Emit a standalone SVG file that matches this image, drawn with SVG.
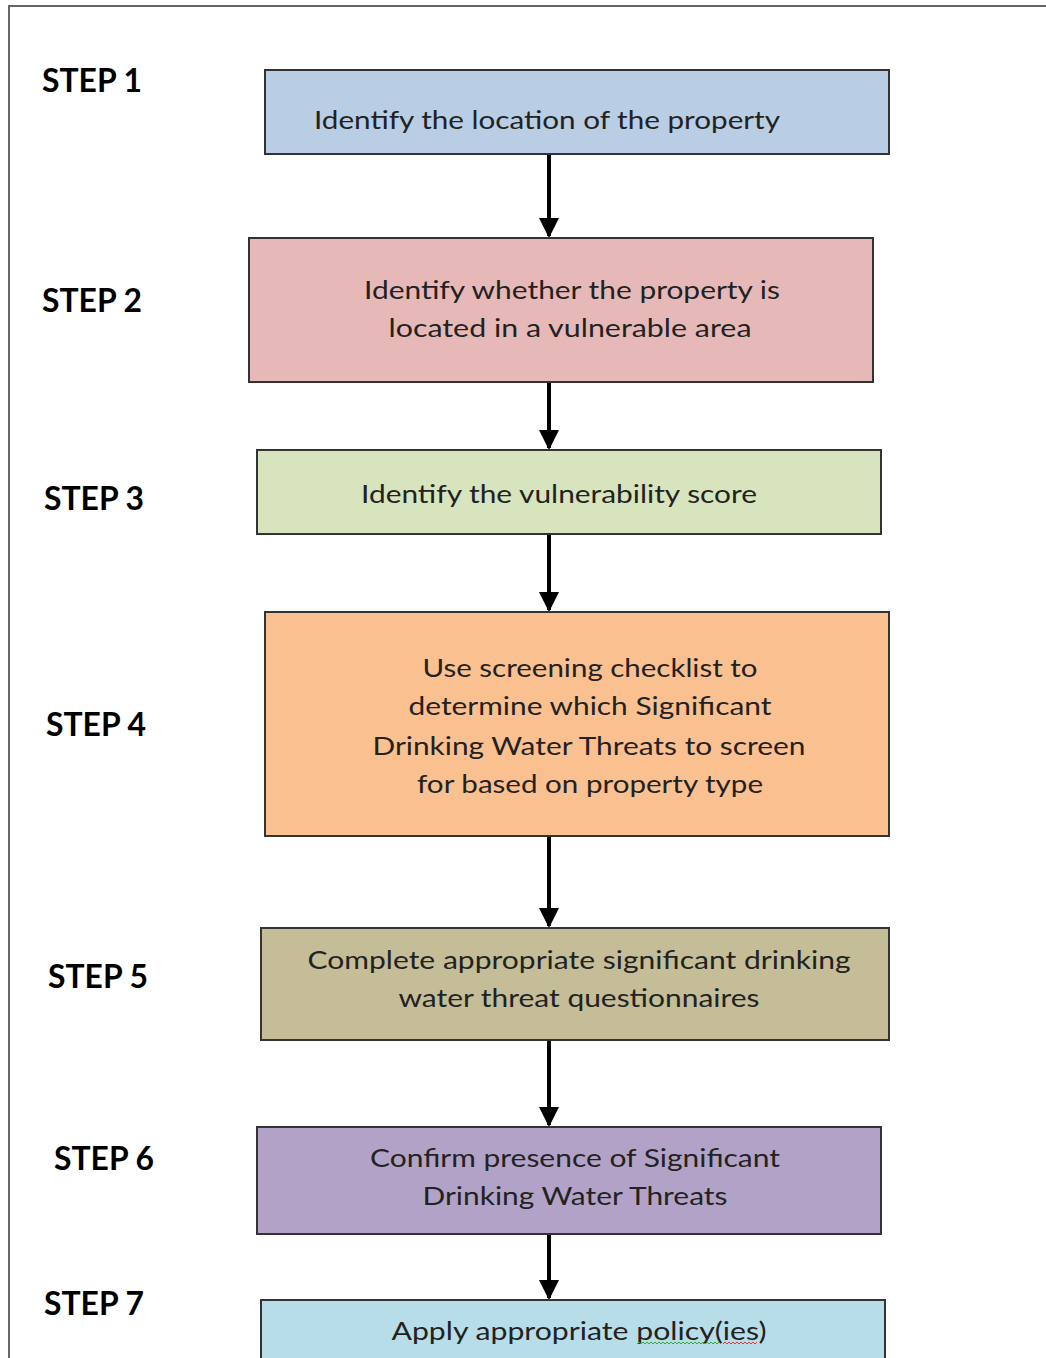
<svg xmlns="http://www.w3.org/2000/svg" width="1046" height="1358" viewBox="0 0 1046 1358">
<defs>
<marker id="ah" markerWidth="5" markerHeight="5" refX="4.5" refY="2.5" orient="auto" markerUnits="strokeWidth">
<path d="M0,0 L5,2.5 L0,5 Z" fill="#000"/>
</marker>
<style>
.box{stroke:#333;stroke-width:2}
.t{font-family:Lato,"Open Sans","Liberation Sans",sans-serif;font-size:25px;fill:#222;text-anchor:middle}
.s{font-family:Lato,"Open Sans","Liberation Sans",sans-serif;font-size:33px;font-weight:bold;fill:#000}
.c{stroke:#000;stroke-width:4;fill:none}
</style>
</defs>
<rect width="1046" height="1358" fill="#fff"/>
<path d="M9,1360 L9,6 L1050,6" fill="none" stroke="#666" stroke-width="2"/>
<g id="labels">
<text class="s" x="42" y="92" textLength="100" lengthAdjust="spacingAndGlyphs">STEP 1</text>
<text class="s" x="42" y="312" textLength="100" lengthAdjust="spacingAndGlyphs">STEP 2</text>
<text class="s" x="44" y="510" textLength="100" lengthAdjust="spacingAndGlyphs">STEP 3</text>
<text class="s" x="46" y="736" textLength="100" lengthAdjust="spacingAndGlyphs">STEP 4</text>
<text class="s" x="48" y="988" textLength="100" lengthAdjust="spacingAndGlyphs">STEP 5</text>
<text class="s" x="54" y="1170" textLength="100" lengthAdjust="spacingAndGlyphs">STEP 6</text>
<text class="s" x="44" y="1315" textLength="100" lengthAdjust="spacingAndGlyphs">STEP 7</text>
</g>
<g id="connectors">
<line class="c" x1="549" y1="155" x2="549" y2="236" marker-end="url(#ah)"/>
<line class="c" x1="549" y1="383" x2="549" y2="448" marker-end="url(#ah)"/>
<line class="c" x1="549" y1="535" x2="549" y2="610" marker-end="url(#ah)"/>
<line class="c" x1="549" y1="837" x2="549" y2="926" marker-end="url(#ah)"/>
<line class="c" x1="549" y1="1041" x2="549" y2="1125" marker-end="url(#ah)"/>
<line class="c" x1="549" y1="1235" x2="549" y2="1298" marker-end="url(#ah)"/>
</g>
<g id="step1">
<rect class="box" x="265" y="70" width="624" height="84" fill="#b9cde5"/>
<text class="t" x="547" y="129" textLength="466" lengthAdjust="spacingAndGlyphs">Identify the location of the property</text>
</g>
<g id="step2">
<rect class="box" x="249" y="238" width="624" height="144" fill="#e6b9b8"/>
<text class="t" x="572" y="299" textLength="416" lengthAdjust="spacingAndGlyphs">Identify whether the property is</text>
<text class="t" x="570" y="337" textLength="363" lengthAdjust="spacingAndGlyphs">located in a vulnerable area</text>
</g>
<g id="step3">
<rect class="box" x="257" y="450" width="624" height="84" fill="#d7e4bd"/>
<text class="t" x="559" y="503" textLength="396" lengthAdjust="spacingAndGlyphs">Identify the vulnerability score</text>
</g>
<g id="step4">
<rect class="box" x="265" y="612" width="624" height="224" fill="#fac090"/>
<text class="t" x="590" y="677" textLength="335" lengthAdjust="spacingAndGlyphs">Use screening checklist to</text>
<text class="t" x="590" y="715" textLength="363" lengthAdjust="spacingAndGlyphs">determine which Significant</text>
<text class="t" x="589" y="755" textLength="433" lengthAdjust="spacingAndGlyphs">Drinking Water Threats to screen</text>
<text class="t" x="590" y="793" textLength="346" lengthAdjust="spacingAndGlyphs">for based on property type</text>
</g>
<g id="step5">
<rect class="box" x="261" y="928" width="628" height="112" fill="#c4bd97"/>
<text class="t" x="579" y="969" textLength="543" lengthAdjust="spacingAndGlyphs">Complete appropriate significant drinking</text>
<text class="t" x="579" y="1007" textLength="361" lengthAdjust="spacingAndGlyphs">water threat questionnaires</text>
</g>
<g id="step6">
<rect class="box" x="257" y="1127" width="624" height="107" fill="#b3a2c7"/>
<text class="t" x="575" y="1167" textLength="410" lengthAdjust="spacingAndGlyphs">Confirm presence of Significant</text>
<text class="t" x="575" y="1205" textLength="305" lengthAdjust="spacingAndGlyphs">Drinking Water Threats</text>
</g>
<g id="step7">
<rect class="box" x="261" y="1300" width="624" height="70" fill="#b7dde8"/>
<text class="t" x="579" y="1340" textLength="375" lengthAdjust="spacingAndGlyphs">Apply appropriate policy(ies)</text>
<path d="M637,1344 l2,-2 l2,2 l2,-2 l2,2 l2,-2 l2,2 l2,-2 l2,2 l2,-2 l2,2 l2,-2 l2,2 l2,-2 l2,2 l2,-2 l2,2 l2,-2 l2,2 l2,-2 l2,2 l2,-2 l2,2 l2,-2 l2,2 l2,-2 l2,2 l2,-2 l2,2 l2,-2 l2,2 l2,-2 l2,2 l2,-2 l2,2 l2,-2 l2,2 l2,-2 l2,2 l2,-2 l2,2 l2,-2 l2,2" fill="none" stroke="#3a3" stroke-width="1"/>
<path d="M723,1344 l2,-2 l2,2 l2,-2 l2,2 l2,-2 l2,2 l2,-2 l2,2 l2,-2 l2,2 l2,-2 l2,2 l2,-2 l2,2 l2,-2 l2,2 l2,-2" fill="none" stroke="#e33" stroke-width="1"/>
</g>
</svg>
